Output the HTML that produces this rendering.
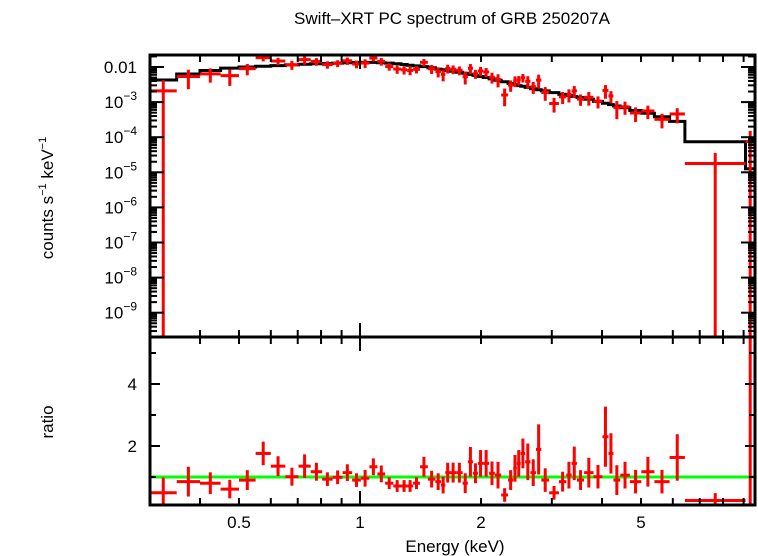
<!DOCTYPE html>
<html><head><meta charset="utf-8"><style>
html,body{margin:0;padding:0;background:#fff;}
svg{display:block;font-family:"Liberation Sans",sans-serif;}
</style></head><body>
<svg id="chart" width="758" height="556" viewBox="0 0 758 556" xmlns="http://www.w3.org/2000/svg">
<text x="452" y="24" font-size="17" text-anchor="middle">Swift–XRT PC spectrum of GRB 250207A</text>
<text transform="translate(53,198) rotate(-90)" font-size="17" text-anchor="middle">counts s<tspan font-size="11" dy="-7">−1</tspan><tspan dy="7"> keV</tspan><tspan font-size="11" dy="-7">−1</tspan></text>
<text transform="translate(53,422) rotate(-90)" font-size="17" text-anchor="middle">ratio</text>
<text x="455" y="552" font-size="17" text-anchor="middle">Energy (keV)</text>
<g id="topPanel"></g>
<g id="botPanel"></g>
<g id="axesGroup"></g>
</svg>
<script>
const binEdges=[0.30,0.35,0.40,0.45,0.50,0.55,0.60,0.652,0.703,0.754,0.805,0.855,0.905,0.956,1.005,1.055,1.105,1.155,1.21,1.265,1.31,1.355,1.41,1.475,1.54,1.59,1.63,1.675,1.735,1.80,1.855,1.91,1.965,2.025,2.095,2.165,2.245,2.335,2.405,2.455,2.51,2.575,2.655,2.74,2.825,2.955,3.125,3.26,3.36,3.465,3.61,3.81,4.01,4.15,4.27,4.44,4.69,5.01,5.40,5.89,6.43,9.10,9.60];
const ratioVals=[0.49,0.85,0.80,0.61,0.90,1.76,1.35,1.01,1.35,1.17,0.93,0.99,1.14,0.90,0.96,1.33,1.10,0.80,0.71,0.71,0.71,0.80,1.33,0.93,0.85,0.74,1.14,1.14,1.14,0.80,1.49,1.12,1.44,1.44,1.12,1.06,0.42,0.90,1.28,1.44,1.76,1.49,1.14,1.89,0.90,0.49,0.85,1.06,1.44,0.90,1.14,1.01,2.30,1.76,0.90,1.06,0.85,1.17,0.85,1.63,0.24,6.0];
const ratioErrs=[0.49,0.48,0.35,0.30,0.32,0.38,0.32,0.29,0.38,0.29,0.22,0.22,0.27,0.22,0.27,0.27,0.27,0.19,0.19,0.19,0.19,0.19,0.32,0.27,0.27,0.27,0.32,0.32,0.32,0.32,0.48,0.32,0.43,0.43,0.38,0.43,0.22,0.32,0.43,0.43,0.48,0.59,0.43,0.81,0.38,0.22,0.32,0.43,0.54,0.32,0.48,0.38,0.97,0.65,0.48,0.43,0.38,0.48,0.38,0.75,0.24,6.0];
const modelLog=[-2.37,-2.20,-2.10,-2.03,-2.0,-1.98,-1.96,-1.94,-1.92,-1.91,-1.90,-1.89,-1.88,-1.87,-1.87,-1.87,-1.88,-1.89,-1.91,-1.93,-1.95,-1.97,-1.99,-2.02,-2.06,-2.08,-2.10,-2.12,-2.15,-2.18,-2.21,-2.24,-2.27,-2.30,-2.34,-2.38,-2.42,-2.47,-2.50,-2.53,-2.55,-2.58,-2.62,-2.65,-2.68,-2.73,-2.78,-2.81,-2.84,-2.87,-2.92,-2.98,-3.03,-3.07,-3.11,-3.16,-3.24,-3.32,-3.42,-3.55,-4.13,-4.90];
const xTickLabels=[0.5,1,2,5];
const yTopTickLabels=["0.01","10|−3","10|−4","10|−5","10|−6","10|−7","10|−8","10|−9"];
const yRatioTickLabels=[2,4];

(function(){
const NS="http://www.w3.org/2000/svg";
const L=150,R=755,T1=55,B1=337,T2=337,B2=505;
const pxPerDec=402, x1=360;
const X=e=>x1+Math.log10(e)*pxPerDec;
const YT=v=>67+(-2-Math.log10(v))*35.1;
const YR=r=>446-(r-2)*31;
function mk(tag,attrs,parent){const el=document.createElementNS(NS,tag);for(const k in attrs)el.setAttribute(k,attrs[k]);parent.appendChild(el);return el;}
const topG=document.getElementById('topPanel'),botG=document.getElementById('botPanel'),axG=document.getElementById('axesGroup');
const cl=(v,a,b)=>Math.max(a,Math.min(b,v));

let d="";
for(let i=0;i<modelLog.length;i++){
  const y=YT(Math.pow(10,modelLog[i])).toFixed(1);
  const xa=cl(X(binEdges[i]),L,R).toFixed(1),xb=cl(X(binEdges[i+1]),L,R).toFixed(1);
  d+=(i===0?"M":"L")+xa+","+y+"L"+xb+","+y;
}
const mp=mk('path',{d:d,fill:'none',stroke:'#000','stroke-width':3},topG);



const gl=mk('line',{x1:L,x2:R,y1:YR(1),y2:YR(1),stroke:'#00ff00','stroke-width':3},botG);



for(let i=0;i<ratioVals.length;i++){
  const e0=binEdges[i],e1=binEdges[i+1],ec=Math.sqrt(e0*e1);
  const xa=cl(X(e0),L,R),xb=cl(X(e1),L,R),xc=X(ec);
  const m=Math.pow(10,modelLog[i]);
  const r=ratioVals[i],er=ratioErrs[i];
  const g=mk('g',{stroke:'#ff0000','stroke-width':3},topG);
  
  
  const yc=cl(YT(m*r),T1,B1);
  const yh=cl(YT(m*(r+er)),T1,B1);
  const lo=r-er; const yl=lo<=0.05?B1:cl(YT(m*lo),T1,B1);
  mk('line',{x1:xa,x2:xb,y1:yc,y2:yc},g);
  mk('line',{x1:xc,x2:xc,y1:yh,y2:yl},g);
  const g2=mk('g',{stroke:'#ff0000','stroke-width':3},botG);
  
  
  const ryc=cl(YR(r),T2,B2),ryh=cl(YR(r+er),T2,B2),ryl=cl(YR(r-er),T2,B2);
  if(YR(r)>=T2) mk('line',{x1:xa,x2:xb,y1:ryc,y2:ryc},g2);
  mk('line',{x1:xc,x2:xc,y1:ryh,y2:ryl},g2);
}

for(const [t,b,n] of [[T1,B1,'spectrum-frame'],[T2,B2,'ratio-frame']]){
  const r=mk('rect',{x:L,y:t,width:R-L,height:b-t,fill:'none',stroke:'#000','stroke-width':3},axG);
  
  
}
const xt=[0.3,0.4,0.5,0.6,0.7,0.8,0.9,1,2,3,4,5,6,7,8,9];
for(const v of xt){
  const x=X(v); if(x<L||x>R)continue;
  const len=(v===1)?14:7;
  for(const [y,dir] of [[T1,1],[B1,-1],[T2,1],[B2,-1]]){
    const t=mk('line',{x1:x,x2:x,y1:y,y2:y+dir*len,stroke:'#000','stroke-width':2},axG);
    
    
  }
}
for(const v of xTickLabels){
  const t=mk('text',{x:X(v),y:528,'font-size':17,'text-anchor':'middle'},axG);
  t.textContent=String(v);
  
  
}
for(let p=-10;p<=-1;p++){
  for(let k=1;k<10;k++){
    const v=k*Math.pow(10,p),y=YT(v);
    if(y<T1||y>B1)continue;
    const len=k===1?14:7;
    for(const [x,dir] of [[L,1],[R,-1]]){
      const t=mk('line',{x1:x,x2:x+dir*len,y1:y,y2:y,stroke:'#000','stroke-width':2},axG);
      
      
    }
  }
}
yTopTickLabels.forEach((s,i)=>{
  const y=YT(Math.pow(10,-2-i))+6;
  const t=mk('text',{x:137,y:y,'font-size':17,'text-anchor':'end'},axG);
  
  
  const parts=s.split('|');
  if(parts.length===1){t.textContent=s;}
  else{
    const a=mk('tspan',{},t);a.textContent=parts[0];
    const b=mk('tspan',{'font-size':12,dy:-8},t);b.textContent=parts[1];
  }
});
for(let r=1;r<=5;r++){
  const y=YR(r),len=(r%2===0)?10:6;
  for(const [x,dir] of [[L,1],[R,-1]]){
    const t=mk('line',{x1:x,x2:x+dir*len,y1:y,y2:y,stroke:'#000','stroke-width':2},axG);
    
    
  }
}
for(const v of yRatioTickLabels){
  const t=mk('text',{x:137,y:YR(v)+6,'font-size':17,'text-anchor':'end'},axG);
  t.textContent=String(v);
  
  
}
})();
</script>
</body></html>
